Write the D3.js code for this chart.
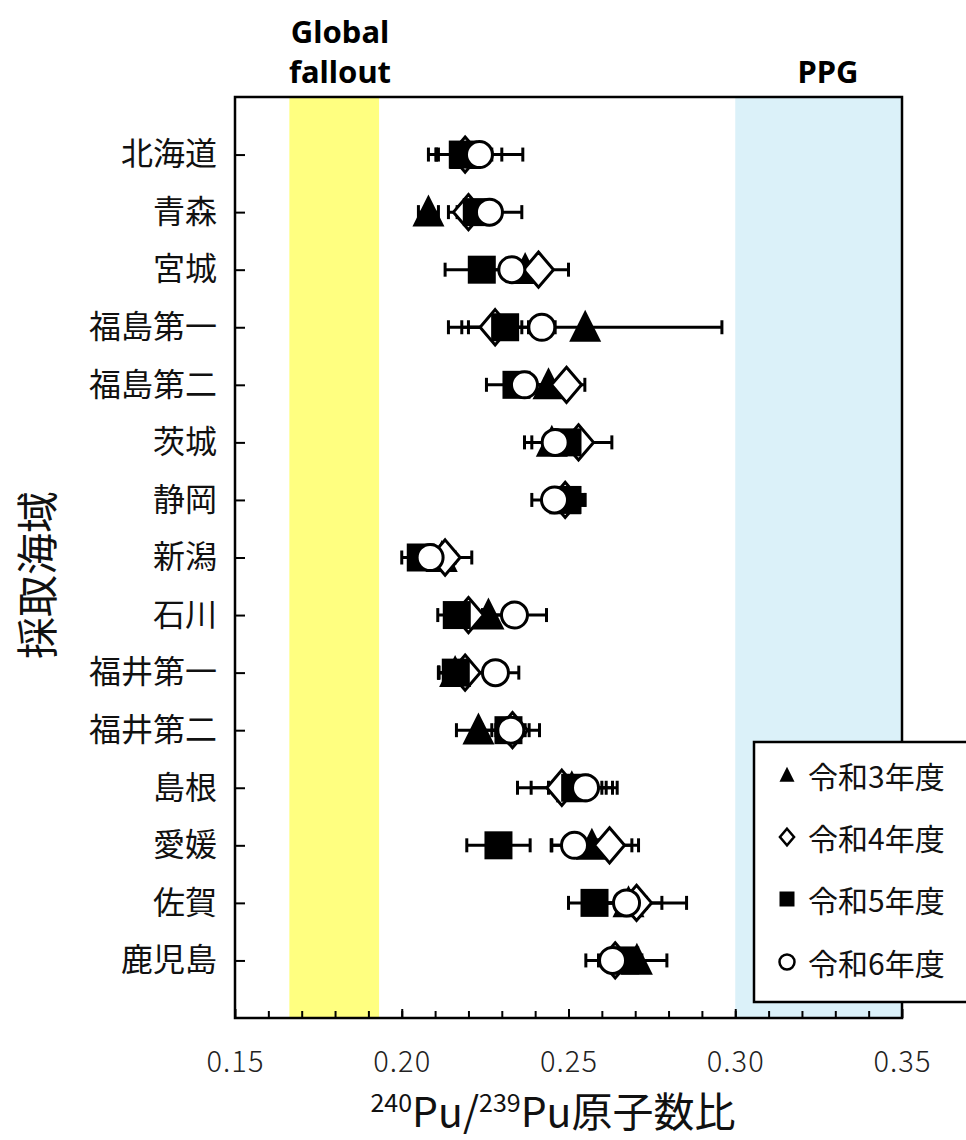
<!DOCTYPE html>
<html>
<head>
<meta charset="utf-8">
<script src="https://cdn.jsdelivr.net/npm/d3@7"></script>
<style>
  body { margin: 0; background: #fff; }
  svg { display: block; font-family: "Noto Sans CJK JP", "Noto Sans", sans-serif; }
</style>
</head>
<body>
<svg id="chart" width="966" height="1140"></svg>
<script>
const regions = ['北海道', '青森', '宮城', '福島第一', '福島第二', '茨城', '静岡', '新潟', '石川', '福井第一', '福井第二', '島根', '愛媛', '佐賀', '鹿児島'];

// 令和3年度 (triangle)
const r3 = [0.219, 0.208, 0.237, 0.255, 0.244, 0.245, 0.249, 0.212, 0.226, 0.216, 0.223, 0.251, 0.257, 0.268, 0.2705];
const r3Err = [0.008, 0.003, 0.005, 0.041, 0.006, 0.006, 0.005, 0.004, 0.006, 0.005, 0.0066, 0.0122, 0.012, 0.010, 0.009];
// 令和4年度 (diamond)
const r4 = [0.219, 0.220, 0.241, 0.228, 0.2494, 0.253, 0.249, 0.213, 0.220, 0.219, 0.2332, 0.248, 0.2623, 0.2704, 0.264];
const r4Err = [0.011, 0.006, 0.009, 0.008, 0.0055, 0.010, 0.006, 0.008, 0.005, 0.008, 0.005, 0.0133, 0.0087, 0.015, 0.005];
// 令和5年度 (square)
const r5 = [0.2183, 0.2225, 0.224, 0.231, 0.2344, 0.2497, 0.2497, 0.2057, 0.2165, 0.2162, 0.232, 0.252, 0.229, 0.2578, 0.267];
const r5Err = [0.008, 0.004, 0.011, 0.013, 0.009, 0.006, 0.005, 0.0057, 0.0057, 0.005, 0.005, 0.008, 0.0095, 0.0078, 0.005];
// 令和6年度 (circle)
const r6 = [0.2233, 0.2263, 0.233, 0.242, 0.2368, 0.246, 0.2458, 0.2085, 0.2338, 0.2281, 0.2327, 0.2551, 0.2518, 0.2674, 0.2632];
const r6Err = [0.013, 0.0097, 0.006, 0.004, 0.006, 0.0092, 0.0068, 0.006, 0.0096, 0.007, 0.0086, 0.0095, 0.007, 0.006, 0.008];

const seriesNames = ['令和3年度', '令和4年度', '令和5年度', '令和6年度'];
const majorTicks = [0.15, 0.20, 0.25, 0.30, 0.35];
const fallout = [0.1663, 0.1932];
const ppg = [0.30, 0.35];

const svg = d3.select('#chart');
const plotLeft = 235, plotRight = 902, plotTop = 97, plotBottom = 1018;

const x = d3.scaleLinear().domain([0.15, 0.35]).range([plotLeft, plotRight]);
const y = d3.scalePoint().domain(regions).range([plotTop, plotBottom]).padding(1);

// reference bands
svg.append('rect')
  .attr('x', x(fallout[0])).attr('y', plotTop)
  .attr('width', x(fallout[1]) - x(fallout[0])).attr('height', plotBottom - plotTop)
  .attr('fill', '#ffff80');
svg.append('rect')
  .attr('x', x(ppg[0])).attr('y', plotTop)
  .attr('width', x(ppg[1]) - x(ppg[0])).attr('height', plotBottom - plotTop)
  .attr('fill', '#dbf1f9');

// minor ticks
const minor = d3.range(16, 35).map(d => d / 100);
svg.append('g')
  .attr('transform', `translate(0, ${plotBottom})`)
  .call(d3.axisBottom(x).tickValues(minor).tickSize(-7).tickFormat(''))
  .call(g => g.select('.domain').remove())
  .call(g => g.selectAll('line').attr('stroke', '#000').attr('stroke-width', 2));

// major ticks and labels
svg.append('g')
  .attr('transform', `translate(0, ${plotBottom})`)
  .call(d3.axisBottom(x).tickValues(majorTicks).tickSize(-9).tickPadding(33).tickFormat(d3.format('.2f')))
  .call(g => g.select('.domain').remove())
  .call(g => g.selectAll('line').attr('stroke', '#000').attr('stroke-width', 2))
  .call(g => g.selectAll('text').attr('font-size', 29).attr('fill', '#222')
    .attr('font-family', '"Noto Sans CJK JP", sans-serif').attr('font-weight', 300)
    .attr('letter-spacing', 1));

svg.append('g')
  .attr('transform', `translate(${plotLeft}, 0)`)
  .call(d3.axisLeft(y).tickSize(-10).tickPadding(18))
  .call(g => g.select('.domain').remove())
  .call(g => g.selectAll('line').attr('stroke', '#000').attr('stroke-width', 2))
  .call(g => g.selectAll('text').attr('font-size', 32).attr('fill', '#111').attr('font-family', '"Noto Sans CJK JP", sans-serif'));

// frame
svg.append('rect')
  .attr('x', plotLeft).attr('y', plotTop)
  .attr('width', plotRight - plotLeft).attr('height', plotBottom - plotTop)
  .attr('fill', 'none').attr('stroke', '#000').attr('stroke-width', 2.5);

// marker shapes
const shapes = {
  triangle: s => `M0,${-s * 0.55}L${s * 0.5},${s * 0.45}L${-s * 0.5},${s * 0.45}Z`,
  diamond: s => `M0,${-s * 0.55}L${s * 0.47},0L0,${s * 0.55}L${-s * 0.47},0Z`,
  square: s => `M${-s / 2},${-s / 2}H${s / 2}V${s / 2}H${-s / 2}Z`,
  circle: s => `M${s / 2},0A${s / 2},${s / 2} 0 1,1 ${-s / 2},0A${s / 2},${s / 2} 0 1,1 ${s / 2},0Z`
};

const series = [
  { name: seriesNames[0], vals: r3, err: r3Err, shape: 'triangle', size: 32, fill: '#000', stroke: 'none' },
  { name: seriesNames[1], vals: r4, err: r4Err, shape: 'diamond', size: 32, fill: '#fff', stroke: '#000' },
  { name: seriesNames[2], vals: r5, err: r5Err, shape: 'square', size: 28, fill: '#000', stroke: 'none' },
  { name: seriesNames[3], vals: r6, err: r6Err, shape: 'circle', size: 26, fill: '#fff', stroke: '#000' }
];

// error bars beneath the markers
const capH = 7;
series.forEach(s => {
  const g = svg.append('g');
  regions.forEach((r, i) => {
    const lo = x(s.vals[i] - s.err[i]), hi = x(s.vals[i] + s.err[i]), cy = y(r);
    g.append('line').attr('x1', lo).attr('x2', hi).attr('y1', cy).attr('y2', cy)
      .attr('stroke', '#000').attr('stroke-width', 3);
    [lo, hi].forEach(cx => g.append('line').attr('x1', cx).attr('x2', cx)
      .attr('y1', cy - capH).attr('y2', cy + capH)
      .attr('stroke', '#000').attr('stroke-width', 3));
  });
});

series.forEach(s => {
  svg.append('g').selectAll('path')
    .data(regions)
    .join('path')
    .attr('transform', (r, i) => `translate(${x(s.vals[i])}, ${y(r)})`)
    .attr('d', shapes[s.shape](s.size))
    .attr('fill', s.fill)
    .attr('stroke', s.stroke)
    .attr('stroke-width', 3);
});

// legend
const lg = svg.append('g');
lg.append('rect')
  .attr('x', 754).attr('y', 742).attr('width', 214).attr('height', 260)
  .attr('fill', '#fff').attr('stroke', '#000').attr('stroke-width', 2.5);
const legendY = [775, 837, 899, 962];
series.forEach((s, i) => {
  lg.append('path')
    .attr('transform', `translate(787, ${legendY[i]})`)
    .attr('d', shapes[s.shape](15))
    .attr('fill', s.fill).attr('stroke', s.stroke).attr('stroke-width', 2.5);
  lg.append('text')
    .attr('x', 808).attr('y', legendY[i])
    .attr('dominant-baseline', 'central')
    .attr('font-size', 30).attr('fill', '#111')
    .text(s.name);
});

// band labels
const bold = '"Noto Sans", "Open Sans", sans-serif';
svg.append('text').attr('x', 340).attr('y', 43).attr('text-anchor', 'middle')
  .attr('font-family', bold).attr('font-weight', 700).attr('font-size', 31).text('Global');
svg.append('text').attr('x', 340).attr('y', 83).attr('text-anchor', 'middle')
  .attr('font-family', bold).attr('font-weight', 700).attr('font-size', 31).text('fallout');
svg.append('text').attr('x', 828).attr('y', 83).attr('text-anchor', 'middle')
  .attr('font-family', bold).attr('font-weight', 700).attr('font-size', 31).text('PPG');

// axis titles
const xt = svg.append('text').attr('x', 553).attr('y', 1127).attr('text-anchor', 'middle')
  .attr('font-size', 41).attr('fill', '#111');
xt.append('tspan').attr('font-size', 25).attr('dy', -15).text('240');
xt.append('tspan').attr('dy', 15).text('Pu/');
xt.append('tspan').attr('font-size', 25).attr('dy', -15).text('239');
xt.append('tspan').attr('dy', 15).text('Pu原子数比');

svg.append('text')
  .attr('transform', 'translate(34, 575) rotate(-90)')
  .attr('text-anchor', 'middle').attr('dominant-baseline', 'central')
  .attr('font-size', 42).attr('fill', '#111')
  .text('採取海域');
</script>
</body>
</html>
